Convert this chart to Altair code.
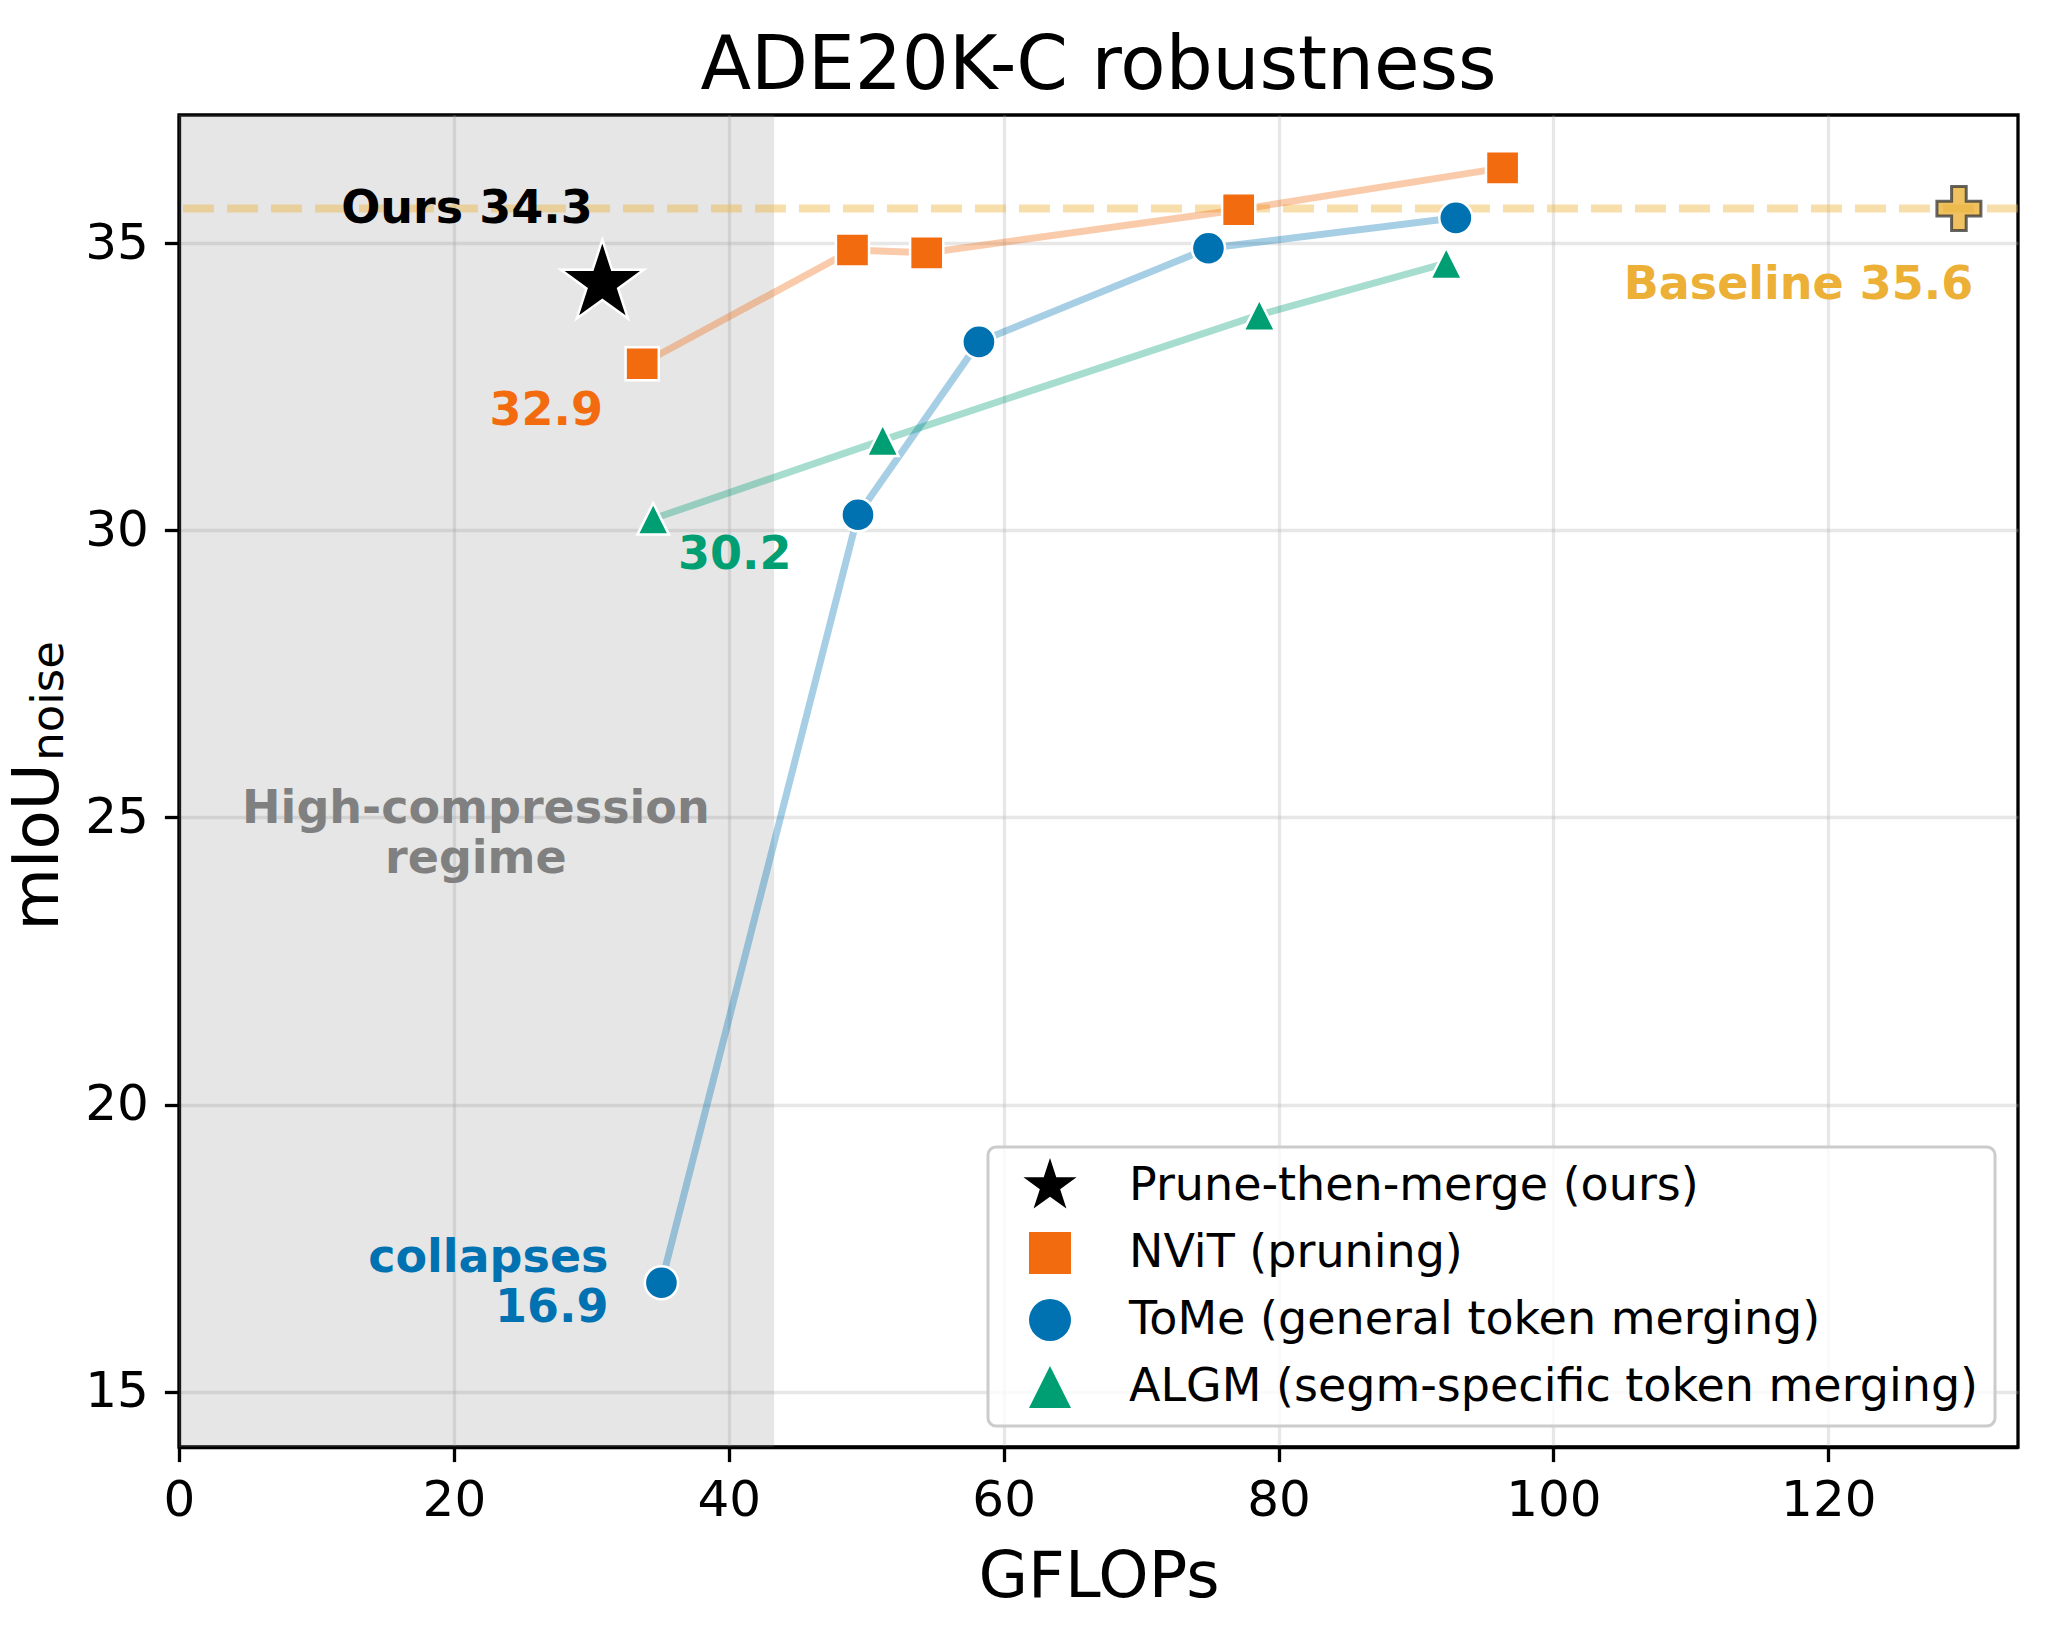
import altair as alt
import pandas as pd

# ---------------- data ----------------
series_names = [
    "Prune-then-merge (ours)",
    "NViT (pruning)",
    "ToMe (general token merging)",
    "ALGM (segm-specific token merging)",
]
ours_gflops = [30.8]
ours_miou = [34.3]
nvit_gflops = [33.7, 49.0, 54.4, 77.1, 96.3]
nvit_miou = [32.9, 34.88, 34.83, 35.58, 36.31]
tome_gflops = [35.1, 49.4, 58.2, 74.9, 92.9]
tome_miou = [16.9, 30.27, 33.28, 34.91, 35.44]
algm_gflops = [34.5, 51.2, 78.6, 92.2]
algm_miou = [30.2, 31.57, 33.75, 34.65]
baseline_gflops = [129.5]
baseline_miou = [35.6]
regime_start = [0]
regime_end = [43.3]

x_ticks = [0, 20, 40, 60, 80, 100, 120]
y_ticks = [15, 20, 25, 30, 35]
x_domain = [0, 133.8]
y_domain = [14.04, 37.23]

# ---------------- styles ----------------
FONT = "DejaVu Sans"
W, H = 1839, 1332
PAD = {"left": 179, "top": 115, "right": 30, "bottom": 197}

series_colors = ["#000000", "#F26B0F", "#0072B2", "#009E73"]
STAR = ("M0,-1.33L0.2986,-0.411L1.265,-0.411L0.4832,0.157L0.7818,1.076L0,0.508"
        "L-0.7818,1.076L-0.4832,0.157L-1.265,-0.411L-0.2986,-0.411Z")
TRI = "M0,-1L1,1L-1,1Z"
PLUS = ("M-0.333,-1L0.333,-1L0.333,-0.333L1,-0.333L1,0.333L0.333,0.333L0.333,1"
        "L-0.333,1L-0.333,0.333L-1,0.333L-1,-0.333L-0.333,-0.333Z")
series_shapes = [STAR, "square", "circle", TRI]
marker_area = dict(zip(series_names, [4300, 1100, 1100, 1000]))
line_color = dict(zip(series_names, series_colors))
GOLD = "#EBB035"

# ---------------- tables ----------------
rows = []
for name, xs, ys in [
    (series_names[0], ours_gflops, ours_miou),
    (series_names[1], nvit_gflops, nvit_miou),
    (series_names[2], tome_gflops, tome_miou),
    (series_names[3], algm_gflops, algm_miou),
]:
    for gx, my in zip(xs, ys):
        rows.append({"series": name, "gflops": gx, "miou": my,
                     "msize": marker_area[name], "lcolor": line_color[name]})
points = pd.DataFrame(rows)
lines = points[points["series"] != series_names[0]]
baseline = pd.DataFrame({"gflops": baseline_gflops, "miou": baseline_miou})
regime = pd.DataFrame({"x0": regime_start, "x1": regime_end})

x_scale = alt.Scale(domain=x_domain, nice=False, zero=False)
y_scale = alt.Scale(domain=y_domain, nice=False, zero=False)
x_axis = alt.Axis(values=x_ticks, title="GFLOPs", format="d", grid=True,
                  labelPadding=14, titlePadding=20, labelFlush=False)
y_axis = alt.Axis(values=y_ticks, title=None, format="d", grid=True,
                  labelPadding=16, labelFlush=False)


def X(field):
    return alt.X(field, type="quantitative", scale=x_scale, axis=x_axis)


def Y(field):
    return alt.Y(field, type="quantitative", scale=y_scale, axis=y_axis)


color_scale = alt.Scale(domain=series_names, range=series_colors)
shape_scale = alt.Scale(domain=series_names, range=series_shapes)

legend = alt.Legend(
    title=None, orient="none", legendX=809, legendY=1032,
    labelFont=FONT, labelFontSize=46, labelColor="black", labelLimit=2000,
    symbolSize=1764, symbolStrokeWidth=0, symbolOffset=23, labelOffset=56,
    symbolOpacity=1,
    rowPadding=21, padding=16, fillColor="rgba(255,255,255,0.8)",
    strokeColor="#cccccc", cornerRadius=8,
)

shade = alt.Chart(regime).mark_rect(color="#808080", fillOpacity=0.2).encode(
    x=X("x0"), x2="x1"
)

base_rule = alt.Chart(baseline).mark_rule(
    color=GOLD, strokeOpacity=0.42, strokeWidth=8, strokeDash=[31, 13]
).encode(y=Y("miou"))

base_point = alt.Chart(baseline).mark_point(
    shape=PLUS, filled=True, fill=GOLD, fillOpacity=0.78, stroke="#333333",
    strokeOpacity=0.75, strokeWidth=3, size=1936
).encode(x=X("gflops"), y=Y("miou"))

line_layer = alt.Chart(lines).mark_line(strokeWidth=7, strokeOpacity=0.35).encode(
    x=X("gflops"), y=Y("miou"),
    detail="series:N",
    color=alt.Color("lcolor:N", scale=None),
)

point_layer = alt.Chart(points).mark_point(
    filled=True, stroke="white", strokeWidth=2.5, opacity=1
).encode(
    x=X("gflops"), y=Y("miou"),
    color=alt.Color("series:N", scale=color_scale, legend=legend, sort=series_names),
    shape=alt.Shape("series:N", scale=shape_scale, legend=legend, sort=series_names),
    size=alt.Size("msize:Q", scale=None, legend=None),
)


def note(text, gx, my, color, align):
    df = pd.DataFrame({"label": [text], "gflops": [gx], "miou": [my]})
    return alt.Chart(df).mark_text(
        font=FONT, fontSize=46, fontWeight="bold", color=color,
        align=align, baseline="middle", lineBreak="\n", lineHeight=50
    ).encode(x=X("gflops"), y=Y("miou"), text="label:N")


notes = [
    note("Ours 34.3", 30.1, 35.6, "#000000", "right"),
    note("32.9", 30.85, 32.08, "#F26B0F", "right"),
    note("30.2", 36.3, 29.57, "#009E73", "left"),
    note("collapses\n16.9", 31.25, 17.33, "#0072B2", "right"),
    note("Baseline 35.6", 130.55, 34.27, GOLD, "right"),
    note("High-compression\nregime", 21.6, 25.14, "#808080", "center"),
]

one = pd.DataFrame({"k": [0]})
ylab_main = alt.Chart(one).mark_text(
    text="mIoU", angle=270, font=FONT, fontSize=64, color="black",
    align="center", baseline="alphabetic"
).encode(x=alt.value(-121), y=alt.value(732))
ylab_sub = alt.Chart(one).mark_text(
    text="noise", angle=270, font=FONT, fontSize=45, color="black",
    align="center", baseline="alphabetic"
).encode(x=alt.value(-116), y=alt.value(586))

chart = alt.layer(
    shade, base_rule, base_point, line_layer, point_layer, *notes, ylab_main, ylab_sub
).properties(
    width=W, height=H,
    autosize=alt.AutoSizeParams(type="none"),
    padding=PAD,
    background="white",
    title=alt.TitleParams(
        "ADE20K-C robustness", font=FONT, fontSize=74, fontWeight="normal",
        color="black", anchor="middle", frame="group", offset=10
    ),
).configure_view(
    stroke="black", strokeWidth=3.3
).configure_axis(
    labelFont=FONT, titleFont=FONT, labelFontSize=50, titleFontSize=64,
    labelColor="black", titleColor="black", titleFontWeight="normal",
    tickColor="black", domainColor="black", tickWidth=3.3, domainWidth=3.3,
    tickSize=14.6, gridColor="#b0b0b0", gridOpacity=0.3, gridWidth=3.3,
).configure_legend(
    strokeWidth=3
)

chart.save("out.html", embed_options={"renderer": "svg", "actions": False})
